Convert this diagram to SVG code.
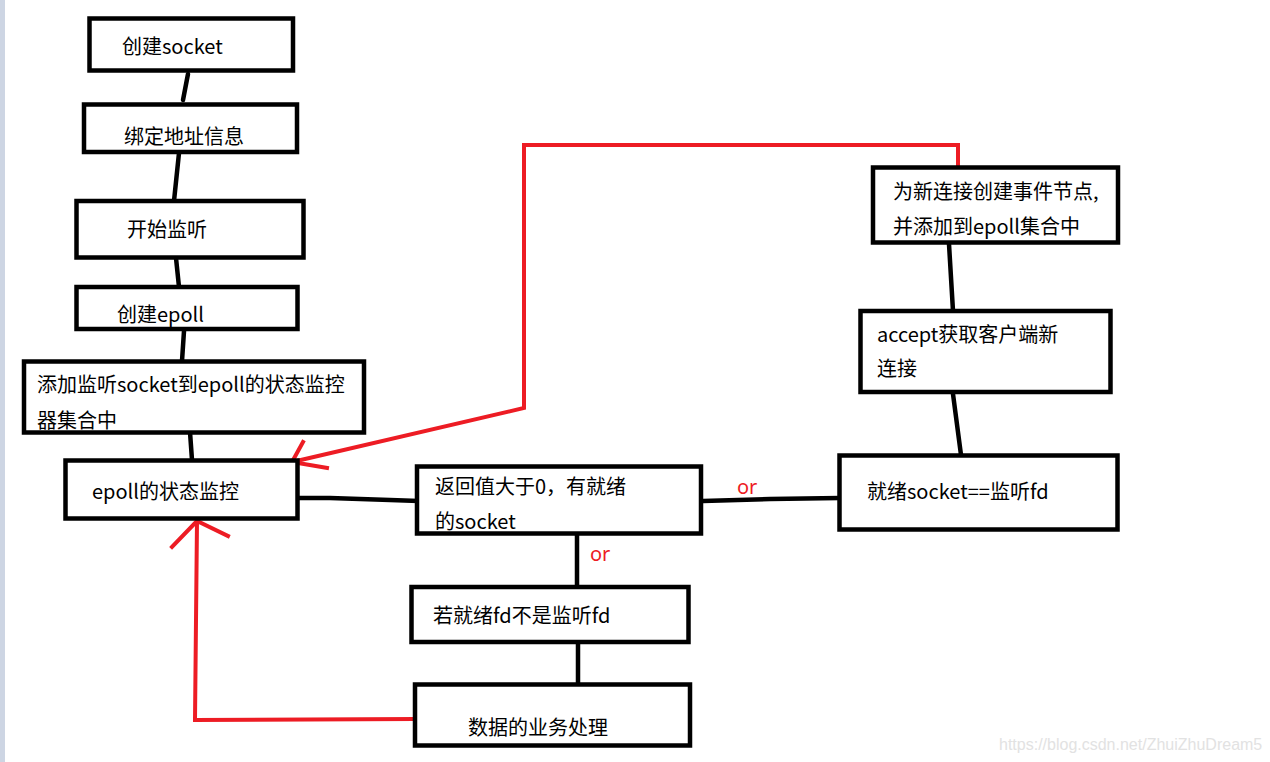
<svg xmlns="http://www.w3.org/2000/svg" width="1270" height="762" viewBox="0 0 1270 762">
<style>
.box{fill:#fff;stroke:#000;stroke-width:4.5}
.t{font-family:"Microsoft YaHei","Noto Sans CJK SC","Noto Sans",sans-serif;font-size:20px;fill:#000}
.or{font-family:"Microsoft YaHei","Noto Sans",sans-serif;font-size:20px;fill:#ed1c24}
.k{stroke:#000;stroke-width:4.5;fill:none;stroke-linecap:round}
.r{stroke:#ed1c24;stroke-width:4;fill:none;stroke-linecap:square;stroke-linejoin:miter}
.wm{font-family:"Liberation Sans",Arial,sans-serif;font-size:16px;fill:#e2e2e2}
</style>
<rect x="0" y="0" width="1270" height="762" fill="#fff"/>
<rect x="0" y="0" width="5" height="762" fill="#cdd5e3"/>
<g id="connectors">
<line class="k" x1="188" y1="74" x2="183" y2="100"/>
<line class="k" x1="179" y1="153" x2="174" y2="201"/>
<line class="k" x1="176" y1="258" x2="179" y2="287"/>
<line class="k" x1="184" y1="331" x2="182" y2="361"/>
<line class="k" x1="190" y1="432" x2="192" y2="460"/>
<polyline class="k" points="298,498 330,498 390,500 419,501"/>
<polyline class="k" points="703,501 770,499 840,498"/>
<line class="k" x1="577" y1="535" x2="577" y2="587"/>
<line class="k" x1="578" y1="643" x2="578" y2="684"/>
<line class="k" x1="949" y1="244" x2="953" y2="311"/>
<line class="k" x1="953" y1="394" x2="961" y2="455"/>
<text class="or" x="737" y="494">or</text>
<text class="or" x="590" y="561">or</text>
<polyline class="r" points="415,719 195,720 197,521"/>
<polyline class="r" points="172,547 197,521 228,536"/>
<polyline class="r" points="958,167 958,145 524,145 524,408 292,462"/>
<polyline class="r" points="303,442 292,462 327,468"/>
</g>
<g id="n1"><rect class="box" x="89.5" y="18.5" width="203.5" height="52"/><text class="t" x="122" y="54">创建socket</text></g>
<g id="n2"><rect class="box" x="84" y="104.5" width="213" height="47.5"/><text class="t" x="124" y="144">绑定地址信息</text></g>
<g id="n3"><rect class="box" x="76.5" y="201" width="227" height="56.5"/><text class="t" x="127" y="237">开始监听</text></g>
<g id="n4"><rect class="box" x="76.5" y="287" width="221" height="42"/><text class="t" x="117" y="322">创建epoll</text></g>
<g id="n5"><rect class="box" x="24" y="361.5" width="340" height="71"/><text class="t" x="37" y="392">添加监听socket到epoll的状态监控</text><text class="t" x="37" y="428">器集合中</text></g>
<g id="n6"><rect class="box" x="65.5" y="460.5" width="232" height="58"/><text class="t" x="92" y="499">epoll的状态监控</text></g>
<g id="n7"><rect class="box" x="417" y="466.5" width="284" height="67"/><text class="t" x="435" y="494">返回值大于0，有就绪</text><text class="t" x="435" y="529">的socket</text></g>
<g id="n8"><rect class="box" x="411.5" y="587" width="277" height="55"/><text class="t" x="433" y="623">若就绪fd不是监听fd</text></g>
<g id="n9"><rect class="box" x="415" y="684.5" width="275" height="61"/><text class="t" x="468" y="735">数据的业务处理</text></g>
<g id="n10"><rect class="box" x="873" y="167.5" width="245" height="75"/><text class="t" x="893" y="199">为新连接创建事件节点,</text><text class="t" x="893" y="234">并添加到epoll集合中</text></g>
<g id="n11"><rect class="box" x="860.5" y="311" width="250" height="81"/><text class="t" x="877" y="342">accept获取客户端新</text><text class="t" x="877" y="376">连接</text></g>
<g id="n12"><rect class="box" x="839.5" y="455.5" width="278" height="74"/><text class="t" x="867" y="499">就绪socket==监听fd</text></g>
<text class="wm" x="999" y="750">https://blog.csdn.net/ZhuiZhuDream5</text>
</svg>
